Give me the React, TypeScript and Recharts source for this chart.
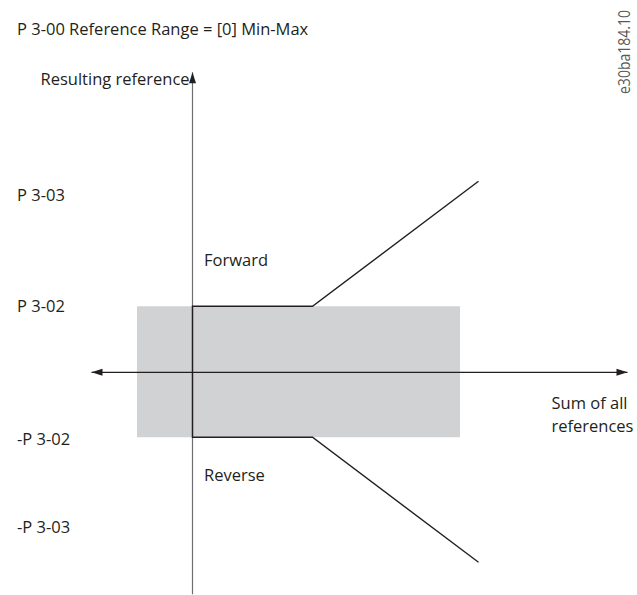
import { ComposedChart, Line, XAxis, YAxis, ReferenceArea, ReferenceLine, Scatter } from 'recharts'

// reference values (1 unit ~ 10 px)
const forward = [
  { x: 0, y: 0 },
  { x: 0, y: 6.6 },
  { x: 12, y: 6.6 },
  { x: 28.6, y: 19.1 },
]
const reverse = [
  { x: 0, y: 0 },
  { x: 0, y: -6.5 },
  { x: 12, y: -6.5 },
  { x: 28.6, y: -19 },
]
const deadBand = { x1: -5.55, x2: 26.75, y1: -6.5, y2: 6.6 }
const axisEnds = { left: -10.1, right: 43.5, top: 30, bottom: -22.2 }
const yTicks = [17.7, 6.6, -6.7, -15.5]
const yTickLabels = ['P 3-03', 'P 3-02', '-P 3-02', '-P 3-03']
const arrows = [
  { x: 0, y: axisEnds.top, dir: 'up' },
  { x: axisEnds.left, y: 0, dir: 'left' },
  { x: axisEnds.right, y: 0, dir: 'right' },
]

const FONT = '"Open Sans", sans-serif'
const INK = '#231f20'

function Arrow({ cx, cy, payload }: any) {
  const len = 11
  const half = 3.5
  let pts = ''
  if (payload.dir === 'up') pts = `${cx},${cy} ${cx - half},${cy + len} ${cx + half},${cy + len}`
  if (payload.dir === 'left') pts = `${cx},${cy} ${cx + len},${cy - half} ${cx + len},${cy + half}`
  if (payload.dir === 'right') pts = `${cx},${cy} ${cx - len},${cy - half} ${cx - len},${cy + half}`
  return <polygon points={pts} fill={INK} />
}

function LeftTick({ y, payload }: any) {
  const i = yTicks.indexOf(payload.value)
  return (
    <text x={17} y={y + 6} fontFamily={FONT} fontSize={16.5} fill={INK} textAnchor="start">
      {yTickLabels[i]}
    </text>
  )
}

export default function App() {
  return (
    <div style={{ position: 'absolute', left: 0, top: 0, width: 637, height: 595, background: '#fff' }}>
      <ComposedChart width={637} height={595} margin={{ top: 0, right: 0, bottom: 0, left: 0 }}>
        <XAxis type="number" dataKey="x" domain={[-10.15, 44.45]} hide allowDataOverflow />
        <YAxis
          type="number"
          dataKey="y"
          domain={[-22.27, 37.23]}
          ticks={yTicks}
          tick={<LeftTick />}
          axisLine={false}
          tickLine={false}
          width={91}
          interval={0}
          allowDataOverflow
        />
        <ReferenceArea
          x1={deadBand.x1}
          x2={deadBand.x2}
          y1={deadBand.y1}
          y2={deadBand.y2}
          fill="#d1d2d4"
          fillOpacity={1}
          stroke="none"
        />
        <ReferenceLine
          segment={[
            { x: 0, y: axisEnds.top },
            { x: 0, y: axisEnds.bottom },
          ]}
          stroke="#6d6e70"
          strokeWidth={1.2}
          ifOverflow="visible"
        />
        <ReferenceLine
          segment={[
            { x: axisEnds.left, y: 0 },
            { x: axisEnds.right, y: 0 },
          ]}
          stroke={INK}
          strokeWidth={1.3}
          ifOverflow="visible"
        />
        <Line data={forward} dataKey="y" type="linear" stroke={INK} strokeWidth={1.4} dot={false} isAnimationActive={false} />
        <Line data={reverse} dataKey="y" type="linear" stroke={INK} strokeWidth={1.4} dot={false} isAnimationActive={false} />
        <Scatter data={arrows} dataKey="y" shape={<Arrow />} isAnimationActive={false} />

        <text x={17} y={35} fontFamily={FONT} fontSize={16.5} fill={INK}>
          P 3-00 Reference Range = [0] Min-Max
        </text>
        <text x={40.5} y={85} fontFamily={FONT} fontSize={16.5} fill={INK}>
          Resulting reference
        </text>
        <text x={204} y={266} fontFamily={FONT} fontSize={16.5} fill={INK}>
          Forward
        </text>
        <text x={204} y={481} fontFamily={FONT} fontSize={16.5} fill={INK}>
          Reverse
        </text>
        <text x={551.5} y={409} fontFamily={FONT} fontSize={16.5} fill={INK}>
          Sum of all
        </text>
        <text x={551.5} y={432} fontFamily={FONT} fontSize={16.5} fill={INK}>
          references
        </text>
        <text
          x={0}
          y={0}
          transform="translate(630,94) rotate(-90)"
          fontFamily={FONT}
          fontSize={16.5}
          fill="#58595b"
          textLength={84}
          lengthAdjust="spacingAndGlyphs"
        >
          e30ba184.10
        </text>
      </ComposedChart>
    </div>
  )
}
